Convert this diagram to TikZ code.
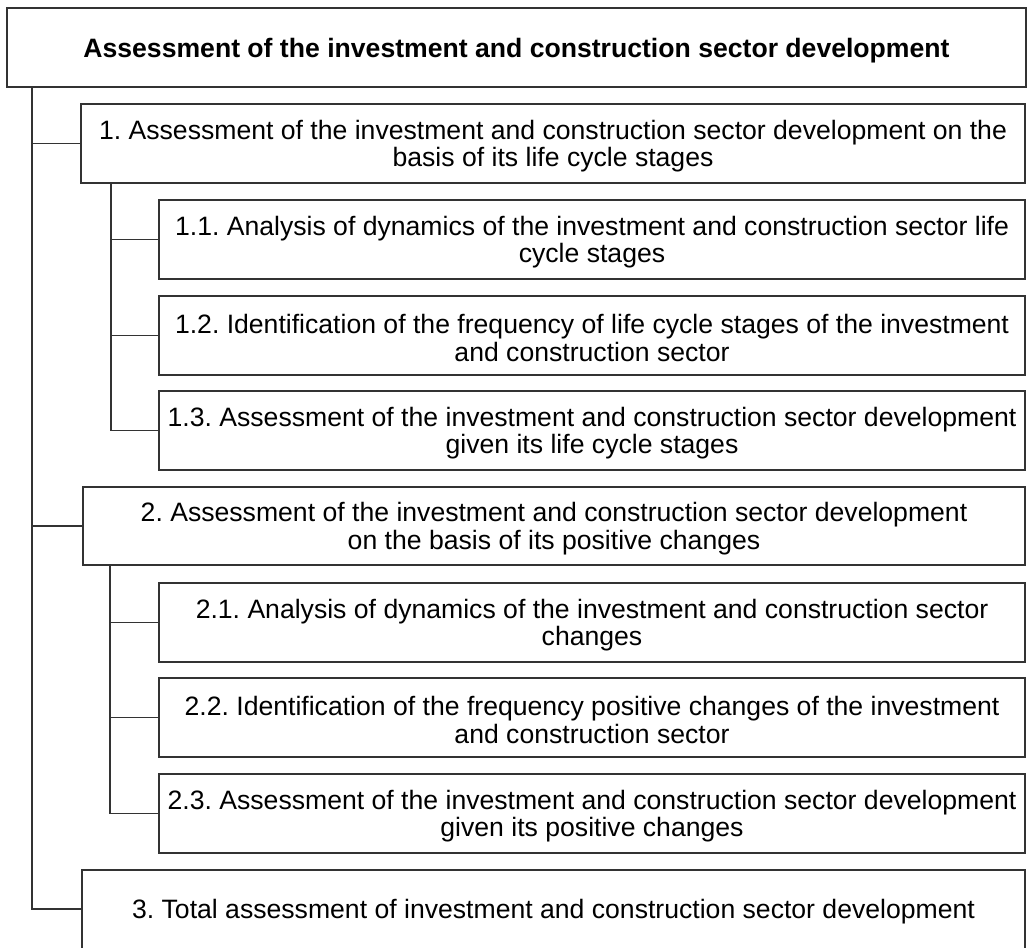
\documentclass[tikz,border=0pt]{standalone}
\usepackage{fontspec}
\setmainfont{Liberation Sans}
\frenchspacing
\begin{document}
\begin{tikzpicture}[x=1pt,y=-1pt,
  line width=1.3pt,
  conn/.style={draw=black!80},
  box/.style={draw=black!80, fill=white, anchor=north west, inner sep=0pt, outer sep=0pt},
  wide/.style={box, minimum height=79pt},
  sub/.style={box, minimum width=866pt, minimum height=79pt},
  lbl/.style={inner sep=0pt, align=center, text=black,
    font=\fontsize{26.6}{27.5}\selectfont},
]
\clip (0,0) rectangle (1027,947);

% boxes
\node[box, minimum width=1019pt, minimum height=79pt] (top) at (7,8) {};
\node[wide, minimum width=944pt] (b1) at (81,104) {};
\node[sub] (b11) at (159,200) {};
\node[sub] (b12) at (159,296) {};
\node[sub] (b13) at (159,391) {};
\node[wide, minimum width=942pt, minimum height=78pt] (b2) at (83,487) {};
\node[sub] (b21) at (159,583) {};
\node[sub] (b22) at (159,678) {};
\node[sub] (b23) at (159,774) {};
\node[wide, minimum width=943pt, minimum height=82pt] (b3) at (82,870) {};

% texts
\node[lbl, font=\fontsize{26.6}{27.5}\selectfont\bfseries] (ttop) at ([yshift=-3pt]top.center)
  {Assessment of the investment and construction sector development};
\node[lbl] (t1) at ([yshift=-2.5pt]b1.center)
  {1. Assessment of the investment and construction sector development on the\\basis of its life cycle stages};
\node[lbl] (t11) at ([yshift=-2.5pt]b11.center)
  {1.1. Analysis of dynamics of the investment and construction sector life\\cycle stages};
\node[lbl] (t12) at ([yshift=-2.5pt]b12.center)
  {1.2. Identification of the frequency of life cycle stages of the investment\\and construction sector};
\node[lbl] (t13) at ([yshift=-2.5pt]b13.center)
  {1.3. Assessment of the investment and construction sector development\\given its life cycle stages};
\node[lbl] (t2) at ([yshift=-2.5pt]b2.center)
  {2. Assessment of the investment and construction sector development\\on the basis of its positive changes};
\node[lbl] (t21) at ([yshift=-2.5pt]b21.center)
  {2.1. Analysis of dynamics of the investment and construction sector\\changes};
\node[lbl] (t22) at ([yshift=-2.5pt]b22.center)
  {2.2. Identification of the frequency positive changes of the investment\\and construction sector};
\node[lbl] (t23) at ([yshift=-2.5pt]b23.center)
  {2.3. Assessment of the investment and construction sector development\\given its positive changes};
\node[lbl] (t3) at (b3.north |- 0,912)
  {3. Total assessment of investment and construction sector development};

% trunk lines
\coordinate (trunk) at (32,87);
\coordinate (s1) at (111,183);
\coordinate (s2) at (110,565);
\coordinate (end3) at (82,909);

\draw[conn] (trunk) |- (end3);
\draw[conn] (trunk |- b1.west) -- (b1.west);
\draw[conn] (trunk |- b2.west) -- (b2.west);

\draw[conn] (s1) |- (b13.west);
\draw[conn] (s1 |- b11.west) -- (b11.west);
\draw[conn] (s1 |- b12.west) -- (b12.west);

\draw[conn] (s2) |- (b23.west);
\draw[conn] (s2 |- b21.west) -- (b21.west);
\draw[conn] (s2 |- b22.west) -- (b22.west);
\end{tikzpicture}
\end{document}
